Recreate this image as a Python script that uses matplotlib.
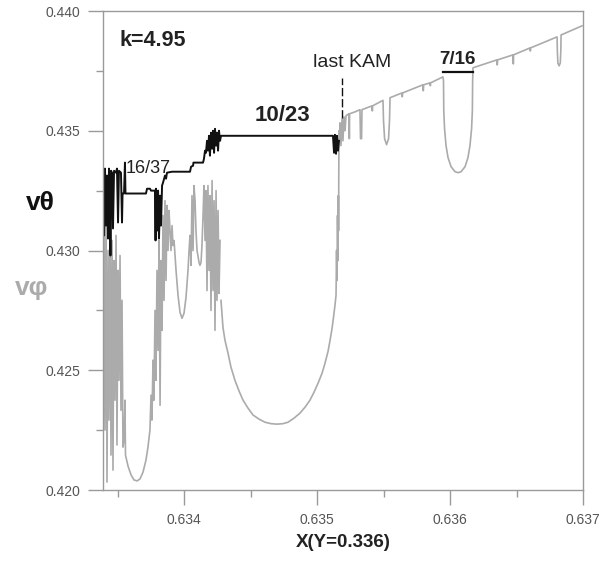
import matplotlib
matplotlib.use("Agg")
import matplotlib.pyplot as plt
from matplotlib.ticker import FixedLocator, FormatStrFormatter

# v_phi (grey): left chaotic zone, wells of 16/37 and nearby resonances
phi_left_x = [0.633391, 0.633399, 0.633406, 0.633414, 0.633421, 0.633429, 0.633436, 0.633444,
              0.633451, 0.633459, 0.633466, 0.633474, 0.633481, 0.633489, 0.633496, 0.633504,
              0.633511, 0.633519, 0.633526, 0.633534, 0.633541, 0.633549, 0.633556, 0.633560,
              0.633579, 0.633602, 0.633624, 0.633647, 0.633669, 0.633692, 0.633714, 0.633729,
              0.633744,
              0.633752, 0.633759, 0.633767, 0.633774, 0.633782, 0.633789, 0.633797, 0.633805,
              0.633812, 0.633820, 0.633827, 0.633835, 0.633842, 0.633850, 0.633857, 0.633865,
              0.633872, 0.633880, 0.633887,
              0.633895, 0.633902, 0.633910, 0.633917, 0.633925, 0.633940, 0.633955, 0.633970,
              0.633985, 0.634000, 0.634015, 0.634030, 0.634038, 0.634045, 0.634053, 0.634060,
              0.634068, 0.634075,
              0.634083, 0.634090, 0.634098, 0.634113, 0.634120, 0.634128, 0.634135, 0.634143,
              0.634150,
              0.634158, 0.634165, 0.634173, 0.634180, 0.634188, 0.634195, 0.634203, 0.634211,
              0.634218, 0.634226, 0.634233, 0.634241, 0.634248, 0.634256, 0.634263, 0.634271]
phi_left_y = [0.42083, 0.43083, 0.42250, 0.43146, 0.42033, 0.43000, 0.42292, 0.43104,
              0.42146, 0.43042, 0.42083, 0.42958, 0.42375, 0.43063, 0.42188, 0.42917,
              0.42458, 0.42979, 0.42333, 0.42792, 0.42179, 0.42208, 0.42375, 0.42146,
              0.42100, 0.42063, 0.42042, 0.42038, 0.42046, 0.42075, 0.42125, 0.42179,
              0.42250,
              0.42396, 0.42292, 0.42542, 0.42375, 0.42750, 0.42458, 0.42917, 0.42583,
              0.43042, 0.42354, 0.42958, 0.42667, 0.43146, 0.42792, 0.43208, 0.42875,
              0.43188, 0.43000, 0.43167,
              0.43083, 0.43000, 0.43104, 0.43021, 0.43042, 0.42917, 0.42813, 0.42742,
              0.42717, 0.42738, 0.42804, 0.42917, 0.43000, 0.43063, 0.42938, 0.43229,
              0.43000, 0.43271,
              0.43208, 0.43083, 0.43000, 0.42950, 0.42938, 0.42950, 0.43021, 0.43146,
              0.43271,
              0.43042, 0.43250, 0.42833, 0.43271, 0.42917, 0.43229, 0.42750, 0.43292,
              0.42833, 0.43208, 0.42667, 0.43250, 0.42792, 0.43167, 0.42821, 0.43042]

# v_phi in the 10/23 well
phi_well_x = [0.634278, 0.634293, 0.634308, 0.634331, 0.634353, 0.634383, 0.634414, 0.634444,
              0.634481, 0.634519, 0.634564, 0.634609, 0.634654, 0.634699, 0.634744, 0.634782,
              0.634827, 0.634872, 0.634910, 0.634947, 0.634977, 0.635008, 0.635038, 0.635060,
              0.635083, 0.635098, 0.635113, 0.635124, 0.635135, 0.635143, 0.635147, 0.635150,
              0.635154, 0.635158, 0.635160, 0.635162, 0.635165]
phi_well_y = [0.42792, 0.42679, 0.42625, 0.42571, 0.42513, 0.42458, 0.42413, 0.42375,
              0.42342, 0.42313, 0.42296, 0.42283, 0.42277, 0.42275, 0.42277, 0.42283,
              0.42300, 0.42321, 0.42346, 0.42375, 0.42408, 0.42446, 0.42488, 0.42529,
              0.42579, 0.42625, 0.42675, 0.42721, 0.42771, 0.42813, 0.43000, 0.42875,
              0.43146, 0.42958, 0.43229, 0.43083, 0.43500]

# v_phi beyond the last KAM curve (7/16 well and small resonances)
phi_right_x = [0.635169, 0.635173, 0.635180, 0.635188, 0.635195, 0.635203, 0.635211, 0.635218,
               0.635241, 0.635243, 0.635245, 0.635286, 0.635323, 0.635327, 0.635335, 0.635338,
               0.635414, 0.635416, 0.635418, 0.635496, 0.635500, 0.635508, 0.635523, 0.635538,
               0.635545, 0.635549, 0.635639, 0.635641, 0.635644, 0.635797, 0.635799, 0.635802,
               0.635850, 0.635852, 0.635854, 0.635947,
               0.635951, 0.635953, 0.635959, 0.635970, 0.635985, 0.636008, 0.636038, 0.636060,
               0.636083, 0.636113, 0.636135, 0.636150, 0.636162, 0.636168, 0.636170, 0.636173,
               0.636353, 0.636355, 0.636358, 0.636474, 0.636476, 0.636478, 0.636602, 0.636604,
               0.636606, 0.636805, 0.636807, 0.636811, 0.636820, 0.636829, 0.636833, 0.636835,
               0.636992]
phi_right_y = [0.43458, 0.43533, 0.43438, 0.43550, 0.43458, 0.43558, 0.43500, 0.43563,
               0.43571, 0.43467, 0.43571, 0.43579, 0.43588, 0.43467, 0.43467, 0.43588,
               0.43604, 0.43583, 0.43604, 0.43627, 0.43542, 0.43467, 0.43442, 0.43467,
               0.43542, 0.43638, 0.43658, 0.43642, 0.43658, 0.43692, 0.43667, 0.43692,
               0.43700, 0.43688, 0.43700, 0.43725,
               0.43708, 0.43583, 0.43508, 0.43438, 0.43388, 0.43350, 0.43329, 0.43325,
               0.43329, 0.43350, 0.43388, 0.43438, 0.43508, 0.43583, 0.43708, 0.43763,
               0.43796, 0.43775, 0.43796, 0.43817, 0.43779, 0.43817, 0.43846, 0.43833,
               0.43846, 0.43892, 0.43833, 0.43783, 0.43771, 0.43783, 0.43833, 0.43900,
               0.43938]

# v_theta (black) devil's staircase
theta_x = [0.633391, 0.633395, 0.633399, 0.633406, 0.633414, 0.633421, 0.633429, 0.633436,
           0.633444, 0.633447, 0.633451, 0.633459, 0.633466, 0.633474, 0.633489, 0.633496,
           0.633504, 0.633511, 0.633526, 0.633534, 0.633538, 0.633549, 0.633556, 0.633560,
           0.633714, 0.633722, 0.633744, 0.633752, 0.633782, 0.633786, 0.633789, 0.633797,
           0.633805, 0.633812, 0.633820, 0.633827, 0.633835, 0.633842, 0.633857, 0.633865,
           0.633872, 0.633910, 0.634045, 0.634053, 0.634068, 0.634071, 0.634143, 0.634150,
           0.634158, 0.634165, 0.634173, 0.634180, 0.634188, 0.634195, 0.634203, 0.634211,
           0.634218, 0.634226, 0.634233, 0.634241, 0.634248, 0.634256, 0.634263, 0.634271,
           0.634278, 0.635120, 0.635128, 0.635135, 0.635143, 0.635150, 0.635158, 0.635165]
theta_y = [0.43146, 0.43333, 0.43063, 0.43342, 0.43104, 0.43313, 0.43050, 0.43342,
           0.43208, 0.42979, 0.43333, 0.43325, 0.43092, 0.43333, 0.43325, 0.43342,
           0.43117, 0.43333, 0.43325, 0.43117, 0.43238, 0.43238, 0.43367, 0.43238,
           0.43238, 0.43258, 0.43258, 0.43250, 0.43250, 0.43042, 0.43258, 0.43083,
           0.43250, 0.43050, 0.43229, 0.43104, 0.43271, 0.43283, 0.43313, 0.43300,
           0.43325, 0.43329, 0.43329, 0.43350, 0.43354, 0.43367, 0.43367, 0.43383,
           0.43417, 0.43408, 0.43458, 0.43417, 0.43479, 0.43396, 0.43492, 0.43425,
           0.43500, 0.43408, 0.43508, 0.43438, 0.43492, 0.43417, 0.43500, 0.43458,
           0.43479, 0.43479, 0.43408, 0.43483, 0.43404, 0.43479, 0.43417, 0.43458]

# 7/16 plateau of v_theta
theta_716_x = [0.635947, 0.636173]
theta_716_y = [0.43746, 0.43746]

# last KAM marker
kam_x = [0.635188, 0.635188]
kam_y = [0.43554, 0.43721]

x_ticks = [0.634, 0.635, 0.636, 0.637]
x_minor = [0.6335, 0.6345, 0.6355, 0.6365]
y_ticks = [0.420, 0.425, 0.430, 0.435, 0.440]
y_minor = [0.4225, 0.4275, 0.4325, 0.4375]

plt.rcParams['font.family'] = ['Liberation Sans', 'DejaVu Sans']

GRAY = '#ababab'
DARK = '#111111'
AXC = '#9a9a9a'

fig = plt.figure(figsize=(6.07, 5.62), dpi=100)
ax = fig.add_axes([0.1697, 0.1281, 0.7908, 0.8523])

ax.plot(phi_left_x, phi_left_y, color=GRAY, lw=1.2)
ax.plot(phi_well_x, phi_well_y, color=GRAY, lw=1.2)
ax.plot(phi_right_x, phi_right_y, color=GRAY, lw=1.2)
ax.plot(theta_x, theta_y, color=DARK, lw=1.4)
ax.plot(theta_716_x, theta_716_y, color=DARK, lw=1.6)
ax.plot(kam_x, kam_y, color=DARK, lw=1.0, dashes=(6, 2))

ax.set_xlim(0.633391, 0.637)
ax.set_ylim(0.420, 0.440)
ax.xaxis.set_major_locator(FixedLocator(x_ticks))
ax.xaxis.set_minor_locator(FixedLocator(x_minor))
ax.yaxis.set_major_locator(FixedLocator(y_ticks))
ax.yaxis.set_minor_locator(FixedLocator(y_minor))
ax.xaxis.set_major_formatter(FormatStrFormatter('%.3f'))
ax.yaxis.set_major_formatter(FormatStrFormatter('%.3f'))

for s in ax.spines.values():
    s.set_color(AXC)
    s.set_linewidth(1.0)
ax.tick_params(which='major', direction='out', length=10.5, width=1.0, color=AXC,
               labelsize=10, labelcolor='#555555', pad=6)
ax.tick_params(which='minor', direction='out', length=5, width=1.0, color=AXC)

ax.set_xlabel('X(Y=0.336)', fontsize=13.5, fontweight='bold', color='#222222', labelpad=5)

# annotations
ax.text(0.633767, 0.43875, 'k=4.95', fontsize=15.5, fontweight='bold', color='#222222',
        ha='center', va='center')
ax.text(0.633730, 0.43342, '16/37', fontsize=13, color='#222222', ha='center', va='center')
ax.text(0.634737, 0.43563, '10/23', fontsize=16, fontweight='bold', color='#222222',
        ha='center', va='center')
ax.text(0.635263, 0.43783, 'last KAM', fontsize=14, color='#222222', ha='center', va='center')
ax.text(0.636056, 0.43798, '7/16', fontsize=13.5, fontweight='bold', color='#222222',
        ha='center', va='center')

fig.text(40 / 607, 1 - 203 / 562, 'vθ', fontsize=19, fontweight='bold', color='#111111',
         ha='center', va='center')
fig.text(32 / 607, 1 - 288 / 562, 'vφ', fontsize=19, fontweight='bold', color=GRAY,
         ha='center', va='center')

fig.savefig('out.png', dpi=100)
